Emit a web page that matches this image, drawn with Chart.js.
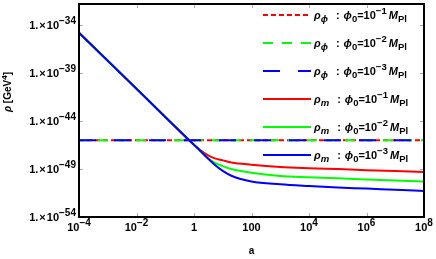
<!DOCTYPE html>
<html>
<head>
<meta charset="utf-8">
<script src="https://cdn.jsdelivr.net/npm/chart.js@4.4.1/dist/chart.umd.min.js"></script>
<style>
  html, body { margin: 0; padding: 0; background: #fff; }
  #wrap { position: relative; width: 436px; height: 259px; font-family: "Liberation Sans", Arial, sans-serif; color: #000; }
  #chart { position: absolute; left: 0; top: 0; }
  #ytitle { position: absolute; left: 7px; top: 92px; transform: translate(-50%, -50%) rotate(-90deg);
            font-size: 10px; font-weight: bold; white-space: nowrap; line-height: 1; }
  #ytitle sup { font-size: 8px; vertical-align: 4px; }
  .xl, .yl { position: absolute; font-size: 11px; font-weight: bold; white-space: nowrap; line-height: 11px; }
  .xl { transform: translateX(-50%); top: 222px; }
  .xl sup { font-size: 10px; vertical-align: 5px; line-height: 0; }
  .yl { transform: translateY(-50%); text-align: right; }
  .yl sup { font-size: 10px; position: relative; top: -5px; vertical-align: baseline; line-height: 0; }
  .yl .x { margin: 0 1px; }
  #legend { position: absolute; left: 263px; top: 0; width: 170px; height: 170px; }
  .row { position: absolute; left: 0; height: 16px; display: flex; align-items: center; white-space: nowrap;
         font-size: 11px; font-weight: bold; line-height: 1; }
  .row svg { margin-right: 3px; flex: none; }
  .row sub { font-size: 9.5px; vertical-align: -3px; }
  .row sup { font-size: 9.5px; vertical-align: 5px; }
  .row .sep { margin: 0 4px 0 8px; }
  .row .m { margin-left: 2px; }
</style>
</head>
<body>
<div id="wrap">
  <canvas id="chart" width="436" height="259"></canvas>
  <div id="ytitle"><i>ρ</i> [GeV<sup>4</sup>]</div>
  <div id="ticks"></div>
  <div id="legend"></div>
</div>
<script>
/* ---- data ---- */
const aVals = [1e-4, 1e-2, 1, 1.6, 3, 5, 10, 20, 100, 1e3, 1e4, 1e5, 1e6, 1e7, 1e8];

const rhoM1 = [1.585e-35, 2.29e-41, 3.31e-47, 1.0e-47, 2.82e-48, 1.35e-48, 7.94e-49, 4.79e-49,
               2.82e-49, 1.66e-49, 1.23e-49, 9.77e-50, 7.59e-50, 6.17e-50, 5.01e-50];
const rhoM2 = [1.585e-35, 2.29e-41, 3.31e-47, 8.71e-48, 1.41e-48, 5.01e-49, 2.0e-49, 1.0e-49,
               4.07e-50, 1.91e-50, 1.38e-50, 1.07e-50, 8.32e-51, 6.46e-51, 5.01e-51];
const rhoM3 = [1.585e-35, 2.29e-41, 3.31e-47, 8.71e-48, 1.32e-48, 3.16e-49, 6.31e-50, 2.0e-50,
               5.01e-51, 2.57e-51, 1.70e-51, 1.20e-51, 9.12e-52, 6.76e-52, 5.13e-52];

const aPhi = [1e-4, 1e8];
const rhoPhi1 = [1e-46, 1e-46];
const rhoPhi2 = [1e-46, 1e-46];
const rhoPhi3 = [1e-46, 1e-46];

const xTicks = [1e-4, 1e-2, 1, 100, 1e4, 1e6, 1e8];
const xTickLabels = ["10<sup>−4</sup>", "10<sup>−2</sup>", "1", "100", "10<sup>4</sup>", "10<sup>6</sup>", "10<sup>8</sup>"];
const yTicks = [1e-54, 1e-49, 1e-44, 1e-39, 1e-34];
const yTickLabels = ['1.<span class="x">×</span>10<sup>−54</sup>', '1.<span class="x">×</span>10<sup>−49</sup>',
                     '1.<span class="x">×</span>10<sup>−44</sup>', '1.<span class="x">×</span>10<sup>−39</sup>',
                     '1.<span class="x">×</span>10<sup>−34</sup>'];

const legendLabels = [
  '<i>ρ</i><sub><i>ϕ</i></sub><span class="sep">:</span><i>ϕ</i><sub>0</sub>=10<sup>−1</sup><i class="m">M</i><sub>Pl</sub>',
  '<i>ρ</i><sub><i>ϕ</i></sub><span class="sep">:</span><i>ϕ</i><sub>0</sub>=10<sup>−2</sup><i class="m">M</i><sub>Pl</sub>',
  '<i>ρ</i><sub><i>ϕ</i></sub><span class="sep">:</span><i>ϕ</i><sub>0</sub>=10<sup>−3</sup><i class="m">M</i><sub>Pl</sub>',
  '<i>ρ</i><sub><i>m</i></sub><span class="sep">:</span><i>ϕ</i><sub>0</sub>=10<sup>−1</sup><i class="m">M</i><sub>Pl</sub>',
  '<i>ρ</i><sub><i>m</i></sub><span class="sep">:</span><i>ϕ</i><sub>0</sub>=10<sup>−2</sup><i class="m">M</i><sub>Pl</sub>',
  '<i>ρ</i><sub><i>m</i></sub><span class="sep">:</span><i>ϕ</i><sub>0</sub>=10<sup>−3</sup><i class="m">M</i><sub>Pl</sub>'
];

const RED = "#ff0000", GREEN = "#00ff00", BLUE = "#0000ff";

function pts(xs, ys) { return xs.map((x, i) => ({ x: x, y: ys[i] })); }

const datasets = [
  { data: pts(aPhi, rhoPhi1), borderColor: RED,   borderDash: [5, 3],   order: 6 },
  { data: pts(aPhi, rhoPhi2), borderColor: GREEN, borderDash: [10, 9],  order: 5 },
  { data: pts(aPhi, rhoPhi3), borderColor: BLUE,  borderDash: [17, 18], order: 4 },
  { data: pts(aVals, rhoM1),  borderColor: RED,   order: 3 },
  { data: pts(aVals, rhoM2),  borderColor: GREEN, order: 2 },
  { data: pts(aVals, rhoM3),  borderColor: BLUE,  order: 1 }
];
datasets.forEach(d => {
  d.borderWidth = 2;
  d.pointRadius = 0;
  d.fill = false;
  d.cubicInterpolationMode = "monotone";
});

/* ---- frame + inward tick marks ---- */
const framePlugin = {
  id: "frame",
  afterDraw(chart) {
    const { ctx, chartArea: ca, scales } = chart;
    ctx.save();
    ctx.strokeStyle = "#aaa";
    ctx.lineWidth = 1;
    ctx.beginPath();
    xTicks.forEach(v => {
      const x = Math.round(scales.x.getPixelForValue(v)) + 0.5;
      ctx.moveTo(x, ca.bottom); ctx.lineTo(x, ca.bottom - 4);
      ctx.moveTo(x, ca.top); ctx.lineTo(x, ca.top + 4);
    });
    yTicks.forEach(v => {
      const y = Math.round(scales.y.getPixelForValue(v)) + 0.5;
      ctx.moveTo(ca.left, y); ctx.lineTo(ca.left + 4, y);
      ctx.moveTo(ca.right, y); ctx.lineTo(ca.right - 4, y);
    });
    ctx.stroke();
    ctx.strokeStyle = "#000";
    ctx.lineWidth = 2;
    ctx.strokeRect(ca.left, ca.top, ca.right - ca.left, ca.bottom - ca.top);
    ctx.restore();
  }
};

const titleFont = { family: "'Liberation Sans', Arial, sans-serif", size: 10, weight: "bold" };

const chart = new Chart(document.getElementById("chart"), {
  type: "line",
  data: { datasets: datasets },
  options: {
    responsive: false,
    animation: false,
    layout: { padding: { top: 4, right: 12, left: 0, bottom: 0 } },
    plugins: { legend: { display: false }, tooltip: { enabled: false } },
    scales: {
      x: {
        type: "logarithmic",
        min: 1e-4, max: 1e8,
        afterBuildTicks: s => { s.ticks = xTicks.map(v => ({ value: v })); },
        afterFit: s => { s.height = 42; },
        grid: { display: false, drawTicks: false },
        border: { display: false },
        ticks: { display: false },
        title: { display: true, text: "a", color: "#000", font: titleFont, padding: { top: 0, bottom: 2 } }
      },
      y: {
        type: "logarithmic",
        min: 1e-54, max: 1.58e-32,
        afterBuildTicks: s => { s.ticks = yTicks.map(v => ({ value: v })); },
        afterFit: s => { s.width = 79; },
        grid: { display: false, drawTicks: false },
        border: { display: false },
        ticks: { display: false }
      }
    }
  },
  plugins: [framePlugin]
});

/* ---- tick labels (html so the exponents are real superscripts) ---- */
const ticksEl = document.getElementById("ticks");
xTicks.forEach((v, i) => {
  const el = document.createElement("div");
  el.className = "xl";
  el.style.left = chart.scales.x.getPixelForValue(v) + "px";
  el.innerHTML = xTickLabels[i];
  ticksEl.appendChild(el);
});
yTicks.forEach((v, i) => {
  const el = document.createElement("div");
  el.className = "yl";
  el.style.right = (436 - 76) + "px";
  el.style.top = chart.scales.y.getPixelForValue(v) + "px";
  el.innerHTML = yTickLabels[i];
  ticksEl.appendChild(el);
});

/* ---- legend (html, built from datasets) ---- */
const legendEl = document.getElementById("legend");
datasets.forEach((d, i) => {
  const row = document.createElement("div");
  row.className = "row";
  row.style.top = (15 + 28 * i - 8) + "px";
  const dash = d.borderDash ? d.borderDash.join(",") : "none";
  row.innerHTML =
    '<svg width="48" height="4"><line x1="0" y1="2" x2="48" y2="2" stroke="' + d.borderColor +
    '" stroke-width="2" stroke-dasharray="' + dash + '"/></svg><span>' + legendLabels[i] + "</span>";
  legendEl.appendChild(row);
});
</script>
</body>
</html>
